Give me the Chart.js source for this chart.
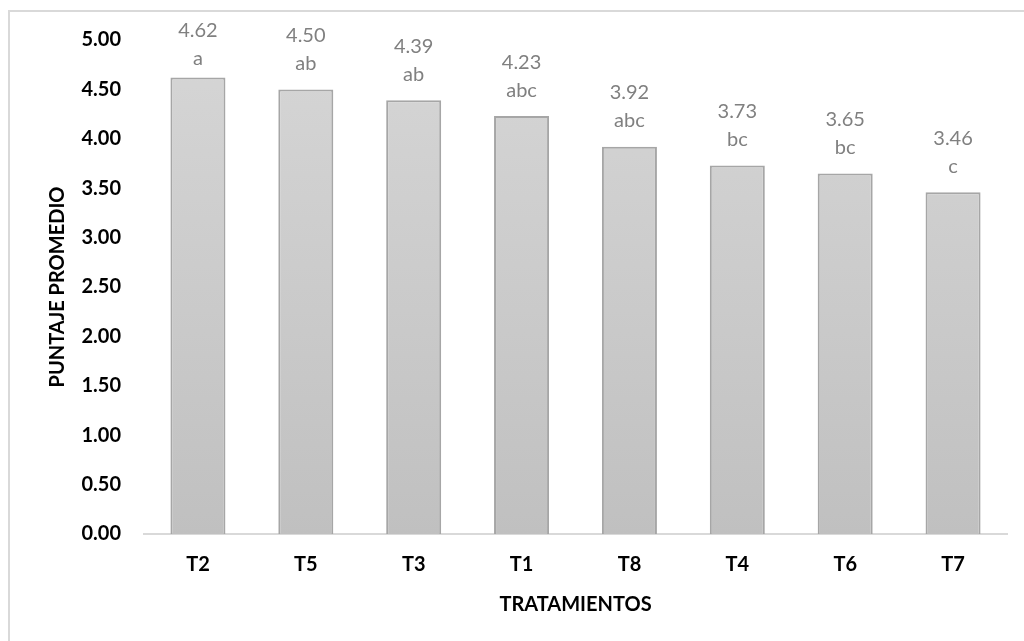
<!DOCTYPE html>
<html>
<head>
<meta charset="utf-8">
<script src="https://cdn.jsdelivr.net/npm/chart.js@4"></script>
<style>
html,body{margin:0;padding:0;background:#fff;}
#wrap{position:relative;width:1024px;height:641px;}
</style>
</head>
<body>
<div id="wrap"><canvas id="c" width="1024" height="641"></canvas></div>
<script>
const categories = ["T2","T5","T3","T1","T8","T4","T6","T7"];
const values = [4.62, 4.50, 4.39, 4.23, 3.92, 3.73, 3.65, 3.46];
const letters = ["a","ab","ab","abc","abc","bc","bc","c"];
const yTicks = [0,0.5,1,1.5,2,2.5,3,3.5,4,4.5,5];

const FONT = "Lato, 'Open Sans', sans-serif";

const frame = {
  id: 'frame',
  beforeDraw(chart){
    const ctx = chart.ctx;
    ctx.save();
    ctx.fillStyle = '#fff';
    ctx.fillRect(0,0,chart.width,chart.height);
    ctx.strokeStyle = '#d9d9d9';
    ctx.lineWidth = 2;
    ctx.strokeRect(9, 11, chart.width + 20, chart.height + 20);
    ctx.restore();
  }
};

const labels = {
  id: 'barLabels',
  afterDatasetsDraw(chart){
    const ctx = chart.ctx;
    const meta = chart.getDatasetMeta(0);
    ctx.save();
    ctx.fillStyle = '#808080';
    ctx.font = "20px " + FONT;
    ctx.textAlign = 'center';
    ctx.textBaseline = 'middle';
    meta.data.forEach((bar, i) => {
      let y1 = bar.y - 54;
      const minY = chart.chartArea.top - 9;
      if (y1 < minY) y1 = minY;
      ctx.fillText(values[i].toFixed(2), bar.x, y1);
      ctx.fillText(letters[i], bar.x, y1 + 28);
    });
    ctx.restore();
  }
};

new Chart(document.getElementById('c'), {
  type: 'bar',
  data: {
    labels: categories,
    datasets: [{
      data: values,
      backgroundColor(ctx){
        const area = ctx.chart.chartArea;
        if (!area) return '#c8c8c8';
        const g = ctx.chart.ctx.createLinearGradient(0, area.top, 0, area.bottom);
        g.addColorStop(0, '#d6d6d6');
        g.addColorStop(1, '#c0c0c0');
        return g;
      },
      borderColor: '#a6a6a6',
      borderWidth: 2,
      borderSkipped: 'bottom',
      barPercentage: 0.51,
      categoryPercentage: 1.0
    }]
  },
  options: {
    responsive: false,
    animation: false,
    devicePixelRatio: 1,
    layout: { padding: { left: 0, right: 17, top: 40, bottom: 0 } },
    plugins: { legend: { display: false }, tooltip: { enabled: false } },
    scales: {
      x: {
        grid: { display: false, drawTicks: false },
        border: { display: true, color: '#d9d9d9', width: 2 },
        ticks: { color: '#000', font: { family: FONT, size: 20, weight: 'bold' }, padding: 19 },
        title: { display: true, text: 'TRATAMIENTOS', color: '#000',
                 font: { family: FONT, size: 20, weight: 'bold' }, padding: { top: 0, bottom: 24 } },
        afterFit(scale){ scale.height = 107; }
      },
      y: {
        min: 0, max: 5,
        afterBuildTicks(scale){ scale.ticks = yTicks.map(v => ({ value: v })); },
        grid: { display: false, drawTicks: false },
        border: { display: false },
        ticks: { color: '#000', font: { family: FONT, size: 20, weight: 'bold' }, padding: 23,
                 callback: v => Number(v).toFixed(2) },
        title: { display: true, text: 'PUNTAJE PROMEDIO', color: '#000',
                 font: { family: FONT, size: 20, weight: 'bold' }, padding: { top: 46, bottom: 0 } },
        afterFit(scale){ scale.width = 144; }
      }
    }
  },
  plugins: [frame, labels]
});
</script>
</body>
</html>
